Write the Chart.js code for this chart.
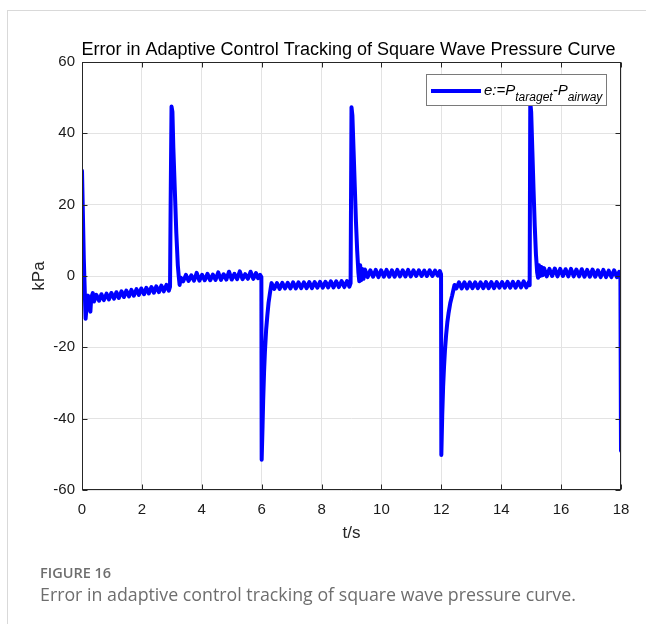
<!DOCTYPE html>
<html>
<head>
<meta charset="utf-8">
<script src="https://cdn.jsdelivr.net/npm/chart.js@4.4.1/dist/chart.umd.min.js"></script>
<style>
  html, body { margin: 0; padding: 0; background: #fff; }
  #wrap { position: relative; width: 646px; height: 624px; overflow: hidden; }
  #frame { position: absolute; left: 7px; top: 10px; width: 700px; height: 700px;
           border-left: 1.5px solid #d9d9d9; border-top: 1.5px solid #d9d9d9; }
  #plot { position: absolute; left: 0; top: 0; }
  .figno { position: absolute; left: 40px; top: 563px; font: 600 14.5px "Open Sans"; color: #6e6e6e; }
  .figcap { position: absolute; left: 40px; top: 582px; font: 17.8px "Open Sans"; color: #6e6e6e; white-space: nowrap; }
</style>
</head>
<body>
<div id="wrap">
  <div id="frame"></div>
  <canvas id="plot" width="646" height="624"></canvas>
  <div class="figno">FIGURE 16</div>
  <div class="figcap">Error in adaptive control tracking of square wave pressure curve.</div>
</div>
<script>
// Tracking error e = P_target - P_airway (kPa) against time (s), one array pair per half cycle.
const cycle1T = [0, 0.06, 0.12, 0.17, 0.20, 0.24, 0.28, 0.31, 0.36,
  0.40, 0.48, 0.57, 0.65, 0.73, 0.82, 0.90, 0.98, 1.07, 1.15, 1.23, 1.32, 1.40, 1.48,
  1.57, 1.65, 1.73, 1.82, 1.90, 1.98, 2.07, 2.15, 2.23, 2.32, 2.40, 2.48, 2.57, 2.65,
  2.73, 2.82, 2.90, 2.94];
const cycle1E = [29.5, 5, -12, -7, -5.5, -8.5, -10, -6, -4.8,
  -7.15, -5.3, -6.95, -5.1, -6.75, -4.95, -6.55, -4.75, -6.35, -4.55, -6.15, -4.3, -5.9, -4.1,
  -5.7, -3.9, -5.5, -3.7, -5.3, -3.5, -5.1, -3.3, -4.9, -3.1, -4.7, -2.9, -4.5, -2.7,
  -4.3, -2.5, -4.1, -3.0];

const cycle2T = [2.96, 2.99, 3.02, 3.05, 3.10, 3.15, 3.20, 3.23, 3.26, 3.30,
  3.38, 3.47, 3.56, 3.65, 3.74, 3.83, 3.92, 4.01, 4.10, 4.19, 4.28, 4.37, 4.46, 4.55,
  4.64, 4.73, 4.82, 4.91, 5.00, 5.09, 5.18, 5.27, 5.36, 5.45, 5.54, 5.63, 5.72, 5.81,
  5.88, 5.95, 5.99];
const cycle2E = [20, 47.5, 46, 36, 24, 12, 3, 0, -2.5, -0.5,
  -1.5, 0.3, -1.4, 0.2, -1.3, 0.9, -1.3, 0.3, -1.2, 0.6, -1.2, 0.4, -1.1, 1.0,
  -1.1, 0.5, -1.0, 1.2, -1.0, 0.6, -0.9, 1.3, -0.9, 0.5, -0.8, 1.2, -0.8, 0.8,
  -0.6, 0.3, -0.3];

const cycle3T = [6.00, 6.03, 6.05, 6.08, 6.11, 6.15, 6.19, 6.23, 6.27, 6.30,
  6.33, 6.42, 6.51, 6.60, 6.69, 6.78, 6.87, 6.96, 7.05, 7.14, 7.23, 7.32, 7.41, 7.50,
  7.59, 7.68, 7.77, 7.86, 7.95, 8.04, 8.13, 8.22, 8.31, 8.40, 8.49, 8.58, 8.67, 8.76,
  8.85, 8.93, 8.97];
const cycle3E = [-51.5, -42, -35, -27, -21, -15, -11, -7.5, -5.2, -3.5,
  -2.0, -3.6, -2.0, -3.6, -1.9, -3.5, -1.9, -3.5, -1.8, -3.5, -1.8, -3.4, -1.8, -3.4,
  -1.7, -3.4, -1.7, -3.3, -1.6, -3.3, -1.6, -3.2, -1.5, -3.2, -1.5, -3.1, -1.4, -3.1,
  -1.4, -3.0, -2.0];

const cycle4T = [9.00, 9.03, 9.07, 9.11, 9.15, 9.19, 9.23, 9.26, 9.29, 9.32, 9.36, 9.40,
  9.45, 9.54, 9.63, 9.72, 9.81, 9.90, 9.99, 10.08, 10.17, 10.26, 10.35, 10.44, 10.53,
  10.62, 10.71, 10.80, 10.89, 10.98, 11.07, 11.16, 11.25, 11.34, 11.43, 11.52, 11.61,
  11.70, 11.79, 11.88, 11.95, 11.99];
const cycle4E = [47.3, 45, 35, 25, 15, 7, 1, -1.5, 3.0, -1.2, 2.0, -0.8,
  1.8, -0.3, 1.6, -0.2, 1.7, -0.3, 1.6, -0.2, 1.7, -0.2, 1.6, -0.2, 1.7,
  -0.1, 1.6, -0.1, 1.7, -0.1, 1.6, 0.0, 1.6, 0.0, 1.5, 0.0, 1.6,
  0.0, 1.5, 0.1, 1.4, 0.5];

const cycle5T = [12.00, 12.03, 12.06, 12.09, 12.12, 12.16, 12.20, 12.24, 12.30, 12.36, 12.40, 12.44,
  12.50, 12.59, 12.68, 12.77, 12.86, 12.95, 13.04, 13.13, 13.22, 13.31, 13.40, 13.49,
  13.58, 13.67, 13.76, 13.85, 13.94, 14.03, 14.12, 14.21, 14.30, 14.39, 14.48, 14.57,
  14.66, 14.75, 14.84, 14.93, 14.95];
const cycle5E = [-50.2, -39, -31, -25.5, -21, -16.5, -13, -10.5, -7.5, -5.5, -4, -2.5,
  -3.5, -1.8, -3.5, -1.8, -3.5, -1.8, -3.4, -1.8, -3.4, -1.8, -3.4, -1.7,
  -3.4, -1.7, -3.4, -1.7, -3.3, -1.7, -3.3, -1.6, -3.3, -1.6, -3.3, -1.6,
  -3.2, -1.5, -3.2, -1.6, -2.6];

const cycle6T = [14.97, 15.00, 15.04, 15.08, 15.12, 15.16, 15.20, 15.23, 15.26, 15.30, 15.34, 15.38,
  15.43, 15.52, 15.61, 15.70, 15.79, 15.88, 15.97, 16.06, 16.15, 16.24, 16.33, 16.42,
  16.51, 16.60, 16.69, 16.78, 16.87, 16.96, 17.05, 17.14, 17.23, 17.32, 17.41, 17.50,
  17.59, 17.68, 17.77, 17.86, 17.94, 17.98, 18.00];
const cycle6E = [48.8, 46, 35, 24, 14, 6, 1, -0.5, 3.0, 0.0, 2.5, 0.2,
  2.2, -0.1, 2.0, 0.0, 2.1, -0.1, 2.0, 0.0, 1.9, -0.1, 2.0, -0.1,
  1.8, -0.1, 1.9, -0.2, 1.7, -0.2, 1.8, -0.2, 1.6, -0.3, 1.7, -0.3,
  1.5, -0.3, 1.6, -0.3, 1.2, 0.5, -49];

const xTicks = [0, 2, 4, 6, 8, 10, 12, 14, 16, 18];
const yTicks = [-60, -40, -20, 0, 20, 40, 60];

const timeSec = [].concat(cycle1T, cycle2T, cycle3T, cycle4T, cycle5T, cycle6T);
const errorKPa = [].concat(cycle1E, cycle2E, cycle3E, cycle4E, cycle5E, cycle6E);
const points = timeSec.map((t, i) => ({ x: t, y: errorKPa[i] }));

const axisColor = '#262626';
const gridColor = '#e3e3e3';
const fontFamily = '"Liberation Sans", Arial, sans-serif';
const tickFont = { family: fontFamily, size: 15 };

// Axes box with inward ticks on all four sides, title, axis labels and the legend.
const boxAndLabels = {
  id: 'boxAndLabels',
  afterDatasetsDraw(chart) {
    const { ctx, chartArea: a, scales: { x, y } } = chart;
    const L = Math.round(a.left) + 0.5, R = Math.round(a.right) - 0.5;
    const T = Math.round(a.top) + 0.5, B = Math.round(a.bottom) - 0.5;
    ctx.save();
    ctx.strokeStyle = axisColor;
    ctx.lineWidth = 1;
    ctx.beginPath();
    xTicks.forEach(v => {
      const px = Math.round(x.getPixelForValue(v)) + 0.5;
      ctx.moveTo(px, B); ctx.lineTo(px, B - 5);
      ctx.moveTo(px, T); ctx.lineTo(px, T + 5);
    });
    yTicks.forEach(v => {
      const py = Math.round(y.getPixelForValue(v)) + 0.5;
      ctx.moveTo(L, py); ctx.lineTo(L + 5, py);
      ctx.moveTo(R, py); ctx.lineTo(R - 5, py);
    });
    ctx.stroke();
    ctx.strokeRect(L, T, R - L, B - T);

    // title and axis labels
    ctx.fillStyle = '#000';
    ctx.textAlign = 'center';
    ctx.textBaseline = 'alphabetic';
    ctx.font = '18px ' + fontFamily;
    ctx.fillText('Error in Adaptive Control Tracking of Square Wave Pressure Curve', (a.left + a.right) / 2 - 3, 55);
    ctx.fillStyle = axisColor;
    ctx.font = '17px ' + fontFamily;
    ctx.fillText('t/s', (a.left + a.right) / 2, 538);
    ctx.save();
    ctx.translate(44, (a.top + a.bottom) / 2);
    ctx.rotate(-Math.PI / 2);
    ctx.fillText('kPa', 0, 0);
    ctx.restore();

    // legend
    const lx = 426, ly = 74, lw = 181, lh = 32;
    ctx.fillStyle = '#fff';
    ctx.fillRect(lx, ly, lw, lh);
    ctx.strokeStyle = '#7a7a7a';
    ctx.lineWidth = 1;
    ctx.strokeRect(lx + 0.5, ly + 0.5, lw - 1, lh - 1);
    ctx.strokeStyle = '#0000ff';
    ctx.lineWidth = 4;
    ctx.beginPath();
    ctx.moveTo(431, 91); ctx.lineTo(481, 91);
    ctx.stroke();
    ctx.fillStyle = '#000';
    ctx.textAlign = 'left';
    const big = 'italic 15px ' + fontFamily;
    const small = 'italic 12px ' + fontFamily;
    let cx = 484;
    const parts = [['e:=P', big, 95], ['taraget', small, 101], ['-P', big, 95], ['airway', small, 101]];
    parts.forEach(([s, f, by]) => {
      ctx.font = f;
      ctx.fillText(s, cx, by);
      cx += ctx.measureText(s).width;
    });
    ctx.restore();
  }
};

new Chart(document.getElementById('plot'), {
  type: 'line',
  data: {
    datasets: [{
      label: 'e:=P_taraget-P_airway',
      data: points,
      borderColor: '#0000ff',
      backgroundColor: '#0000ff',
      borderWidth: 4,
      borderJoinStyle: 'round',
      borderCapStyle: 'round',
      // a solid "dash" keeps every vertex in the path (no per-pixel min/max collapsing)
      borderDash: [5000, 0],
      pointRadius: 0,
      tension: 0,
      fill: false
    }]
  },
  options: {
    responsive: false,
    devicePixelRatio: 1,
    animation: false,
    layout: { padding: { left: 0, right: 25, top: 62, bottom: 74 } },
    plugins: { legend: { display: false }, title: { display: false }, tooltip: { enabled: false } },
    scales: {
      x: {
        type: 'linear',
        min: 0, max: 18,
        afterFit(s) { s.height = 60; },
        afterBuildTicks(s) { s.ticks = xTicks.map(v => ({ value: v })); },
        ticks: { font: tickFont, color: '#1a1a1a', padding: 11, maxRotation: 0, autoSkip: false },
        grid: { color: gridColor, drawTicks: false, lineWidth: 1 },
        border: { display: false }
      },
      y: {
        type: 'linear',
        min: -60, max: 60,
        afterFit(s) { s.width = 82; },
        afterBuildTicks(s) { s.ticks = yTicks.map(v => ({ value: v })); },
        ticks: { font: tickFont, color: '#1a1a1a', padding: 7, autoSkip: false },
        grid: { color: gridColor, drawTicks: false, lineWidth: 1 },
        border: { display: false }
      }
    }
  },
  plugins: [boxAndLabels]
});
</script>
</body>
</html>
